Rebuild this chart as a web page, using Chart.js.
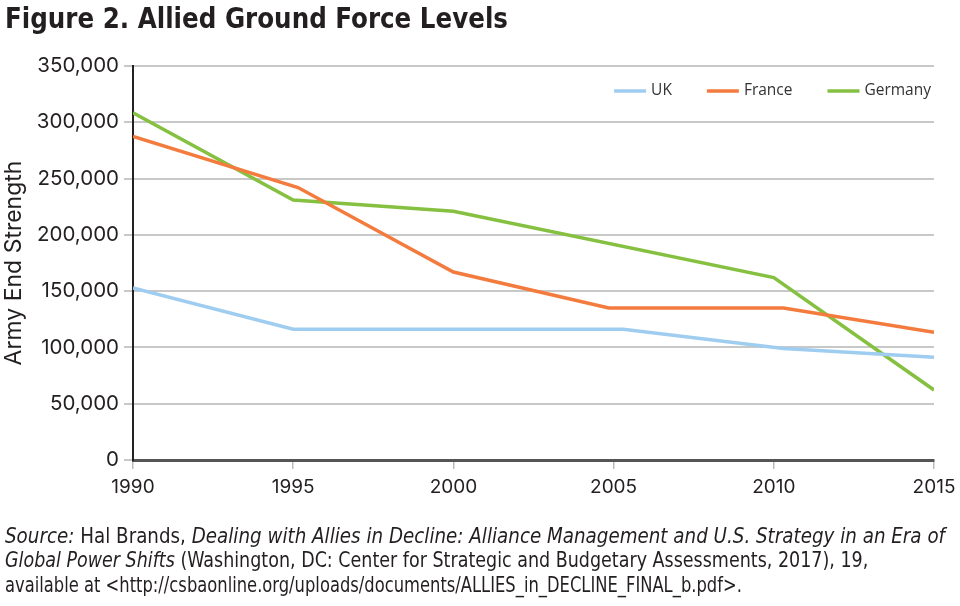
<!DOCTYPE html>
<html>
<head>
<meta charset="utf-8">
<script src="https://cdn.jsdelivr.net/npm/chart.js@4.4.1/dist/chart.umd.min.js"></script>
<style>
  html, body { margin: 0; padding: 0; background: #fff; }
  #wrap { position: relative; width: 960px; height: 606px; }
  #title {
    position: absolute; left: 5px; top: 2px;
    font-family: "DejaVu Sans Condensed", "DejaVu Sans", sans-serif;
    font-weight: bold; font-size: 28px; line-height: normal; color: #231f20;
    white-space: nowrap; transform-origin: 0 0;
  }
  #source {
    position: absolute; left: 5px; top: 523.5px;
    font-family: "DejaVu Sans Condensed", "DejaVu Sans", sans-serif;
    font-size: 21px; line-height: 24.5px; color: #231f20;
  }
  #source div { white-space: nowrap; transform-origin: 0 0; }
</style>
</head>
<body>
<div id="wrap">
  <canvas id="myChart" width="960" height="606"></canvas>
  <div id="title" data-w="503">Figure 2. Allied Ground Force Levels</div>
  <div id="source">
    <div data-w="940"><i>Source:</i> Hal Brands, <i>Dealing with Allies in Decline: Alliance Management and U.S. Strategy in an Era of</i></div>
    <div data-w="900"><i>Global Power Shifts</i> (Washington, DC: Center for Strategic and Budgetary Assessments, 2017), 19,</div>
    <div data-w="840">available at &lt;http://csbaonline.org/uploads/documents/ALLIES_in_DECLINE_FINAL_b.pdf&gt;.</div>
  </div>
</div>
<script>
const ukYears = [1990, 1995, 2005.3, 2010.3, 2015]
const ukTroops = [152800, 116100, 116100, 99000, 91200]
const franceYears = [1990, 1995.15, 2000, 2004.85, 2010.3, 2015]
const franceTroops = [287500, 242000, 167000, 135000, 135000, 113400]
const germanyYears = [1990, 1995, 2000, 2010, 2015]
const germanyTroops = [308500, 231000, 220900, 162000, 62200]
const yearTicks = [1990, 1995, 2000, 2005, 2010, 2015]

const toPoints = (xs, ys) => xs.map((x, i) => ({ x: x, y: ys[i] }))

// squeeze the title and each source line to the width it has in the figure
document.querySelectorAll('#title, #source div').forEach(d => {
    const w = d.getBoundingClientRect().width
    d.style.transform = 'scaleX(' + (Number(d.dataset.w) / w) + ')'
})

const lineLegend = {
    id: 'lineLegend',
    afterDatasetsDraw(chart) {
        const c = chart.ctx
        const area = chart.chartArea
        c.save()
        c.font = '15.5px "Open Sans"'
        c.textBaseline = 'middle'
        let x = area.right - 3
        const y = area.top + 25
        for (let i = chart.data.datasets.length - 1; i >= 0; i--) {
            const ds = chart.data.datasets[i]
            const tw = c.measureText(ds.label).width
            x -= tw
            c.fillStyle = '#333'
            c.fillText(ds.label, x, y)
            c.strokeStyle = ds.borderColor
            c.lineWidth = 3.5
            c.beginPath()
            c.moveTo(x - 5 - 32, y)
            c.lineTo(x - 5, y)
            c.stroke()
            x -= 5 + 32 + 35
        }
        c.restore()
    }
}

const ctx = document.getElementById('myChart').getContext('2d')
new Chart(ctx, {
    type: 'line',
    data: {
        datasets: [{
            label: 'UK',
            data: toPoints(ukYears, ukTroops),
            borderColor: '#9fcdf0',
            backgroundColor: '#9fcdf0'
        },
        {
            label: 'France',
            data: toPoints(franceYears, franceTroops),
            borderColor: '#f47b3e',
            backgroundColor: '#f47b3e'
        },
        {
            label: 'Germany',
            data: toPoints(germanyYears, germanyTroops),
            borderColor: '#85c040',
            backgroundColor: '#85c040'
        }]
    },
    plugins: [lineLegend],
    options: {
        responsive: false,
        animation: false,
        layout: { padding: { left: 0, right: 26, top: 66, bottom: 106 } },
        elements: {
            point: { radius: 0 },
            line: { borderWidth: 3.5, tension: 0 }
        },
        plugins: {
            legend: { display: false },
            tooltip: { enabled: false },
            title: { display: false }
        },
        scales: {
            x: {
                type: 'linear',
                min: 1990,
                max: 2015,
                afterBuildTicks(scale) {
                    scale.ticks = yearTicks.map(v => ({ value: v }))
                },
                border: { color: '#555', width: 3 },
                grid: { drawOnChartArea: false, drawTicks: true, tickLength: 9, color: '#bbb', lineWidth: 1.5 },
                ticks: {
                    color: '#231f20',
                    padding: 7,
                    font: { family: 'Inter', size: 19 },
                    callback: v => String(v)
                },
                afterFit(scale) {
                    scale.height = 40
                    scale.paddingLeft = 0
                    scale.paddingRight = 0
                }
            },
            y: {
                min: 0,
                max: 350000,
                ticks: {
                    stepSize: 50000,
                    color: '#231f20',
                    padding: 5,
                    font: { family: 'Inter', size: 20.5 },
                    callback: v => v.toLocaleString('en-US')
                },
                border: { color: '#222', width: 2 },
                grid: { color: '#c8c8c8', lineWidth: 2, tickLength: 9 },
                title: {
                    display: true,
                    text: 'Army End Strength',
                    color: '#231f20',
                    font: { family: 'Inter', size: 23 },
                    padding: { top: 0, bottom: 1 }
                },
                afterFit(scale) {
                    scale.width = 133
                    scale.paddingTop = 0
                    scale.paddingBottom = 0
                }
            }
        }
    }
})
</script>
</body>
</html>
